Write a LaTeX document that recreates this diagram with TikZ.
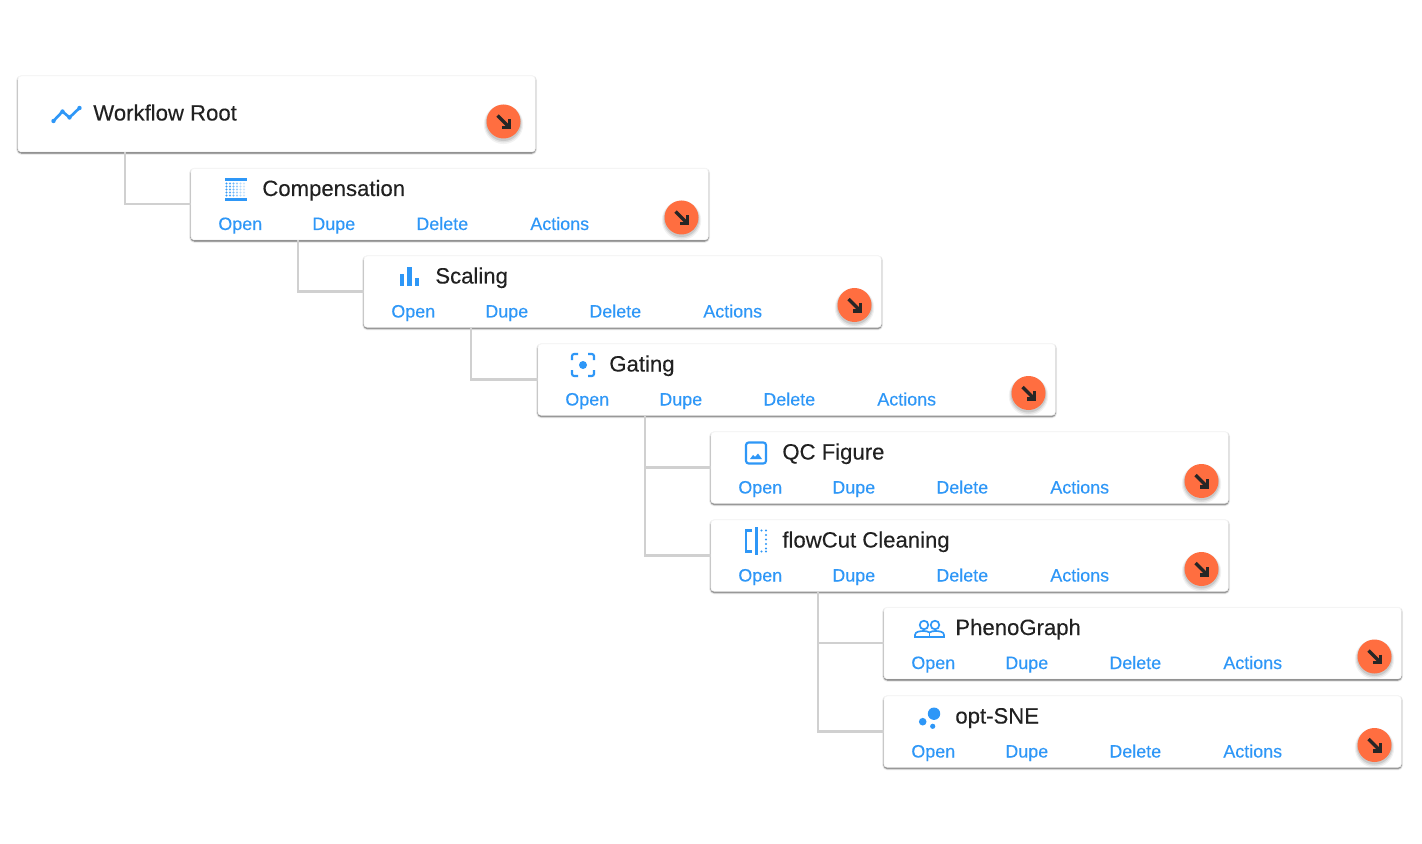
\documentclass[tikz,border=0pt]{standalone}
\usepackage{fontspec}
\setmainfont{Liberation Sans}
\newfontfamily\mediumfont[FakeBold=0.25]{Liberation Sans}
\usepackage{tikz}
\usetikzlibrary{
  arrows.meta,
  shadows.blur
}
\definecolor{linkblue}{HTML}{2E97F7}
\definecolor{titleink}{HTML}{212121}
\definecolor{fabcolor}{HTML}{FF6E40}
\definecolor{linkgray}{HTML}{D0D0D0}
\tikzset{
  job card/.style={
    rectangle,
    draw=black!4,
    fill=white,
    rounded corners=2pt,
    anchor=north west,
    minimum width=517.5*0.02cm,
    blur shadow={shadow xshift=0pt, shadow yshift=-0.7pt, shadow blur radius=1pt, shadow blur steps=4, shadow opacity=70}
  },
  job title/.style={
    anchor=base west,
    inner sep=0pt,
    text=titleink,
    font=\mediumfont\fontsize{12.6}{15}\selectfont
  },
  job action/.style={
    anchor=base west,
    inner sep=0pt,
    text=linkblue,
    font=\mediumfont\fontsize{10.2}{12}\selectfont
  },
  run fab/.style={
    circle,
    fill=fabcolor,
    minimum size=34*0.02cm,
    inner sep=0pt,
    general shadow={fill=black, opacity=0.05, shadow yshift=-1.4pt, shadow scale=1.16},
    general shadow={fill=black, opacity=0.07, shadow yshift=-1.2pt, shadow scale=1.10},
    general shadow={fill=black, opacity=0.10, shadow yshift=-1pt, shadow scale=1.04}
  },
  fab arrow/.style={
    draw=black!85,
    line width=1.9pt
  },
  tree link/.style={
    draw=linkgray,
    line width=1.5pt
  },
  icon line/.style={
    draw=linkblue,
    line width=1.2pt
  },
  trend icon/.pic={
    \draw[icon line, line width=1.5pt, line join=round, line cap=round]
      (-13,6.5) -- (-4,-3) -- (3,3) -- (13,-6.5);
    \foreach \px/\py in {-13/6.5,-4/-3,3/3,13/-6.5}{
      \fill[linkblue] (\px,\py) circle (2.2);
    }
  },
  grid icon/.pic={
    \draw[icon line] (-11,-10) -- (11,-10);
    \draw[icon line] (-11,10) -- (11,10);
    \foreach \col/\shade in {0/95,1/85,2/70,3/50,4/35,5/25}{
      \foreach \row in {-6,-3,0,3,6}{
        \fill[linkblue!\shade] (-9.5+\col*3.5,\row) circle (1.05);
      }
    }
  },
  bars icon/.pic={
    \fill[linkblue] (-9.5,-2.5) rectangle (-5.5,9.5);
    \fill[linkblue] (-2.5,-9.5) rectangle (2.5,9.5);
    \fill[linkblue] (5.5,1.5) rectangle (9.5,9.5);
  },
  focus icon/.pic={
    \fill[linkblue] (0,0) circle (4);
    \draw[icon line, rounded corners=1.2pt] (-11,-5) -- (-11,-11) -- (-5,-11);
    \draw[icon line, rounded corners=1.2pt] (5,-11) -- (11,-11) -- (11,-5);
    \draw[icon line, rounded corners=1.2pt] (11,5) -- (11,11) -- (5,11);
    \draw[icon line, rounded corners=1.2pt] (-5,11) -- (-11,11) -- (-11,5);
  },
  image icon/.pic={
    \draw[icon line, rounded corners=1.5pt] (-10,-10.5) rectangle (10,10.5);
    \fill[linkblue] (-6,6) -- (-3,2) -- (-1,4) -- (2,0.5) -- (6,6) -- cycle;
  },
  split icon/.pic={
    \draw[icon line] (-4,-10.5) -- (-10,-10.5) -- (-10,10.5) -- (-4,10.5);
    \draw[icon line, line width=1.4pt] (0.5,-14) -- (0.5,14);
    \foreach \dy in {-10.5,-6,-1.5,3,7.5,10.5}{
      \fill[linkblue] (10,\dy) circle (1.1);
    }
    \fill[linkblue] (5.5,-10.5) circle (1.1);
    \fill[linkblue] (5.5,10.5) circle (1.1);
  },
  people icon/.pic={
    \draw[icon line, line width=0.95pt] (-5,-3.5) circle (4.3);
    \draw[icon line, line width=0.95pt] (6,-3.5) circle (4.3);
    \draw[icon line, line width=0.95pt]
      (-14,8.5) -- (-14,6.5) .. controls (-14,3) and (-9,2.5) .. (-5,2.5)
      .. controls (-3,2.5) and (-1,3) .. (0.5,4)
      .. controls (2,3) and (4,2.5) .. (6,2.5)
      .. controls (10,2.5) and (15,3) .. (15,6.5) -- (15,8.5) -- cycle;
    \draw[icon line, line width=0.95pt] (0.5,4) -- (0.5,8.5);
  },
  bubbles icon/.pic={
    \fill[linkblue] (5,-3.3) circle (6.2);
    \fill[linkblue] (-6.3,4.7) circle (3.8);
    \fill[linkblue] (3.7,9.3) circle (2.6);
  }
}
\begin{document}
\begin{tikzpicture}[x=0.02cm,y=-0.02cm]

    \useasboundingbox (0,0) rectangle (1422,844);

    % ---------- root card ----------
    \node[job card, minimum height=76*0.02cm] (root) at (17.5,75.5) {};
    \node[job title] (root-title) at (93,120.5) {Workflow Root};
    \pic at (66.5,114.5) {trend icon};
    \node[run fab] (root-fab) at (503.5,121.5) {};
    \draw[fab arrow] (497.5,115.5) -- (509.5,127.5);
    \draw[fab arrow] (509.5,119.5) -- (509.5,127.5) -- (501.5,127.5);

    % ---------- job cards ----------
    \foreach \name/\x/\y/\label/\icon in {
      comp/191/168.5/Compensation/grid icon,
      scaling/364/256/Scaling/bars icon,
      gating/538/344/Gating/focus icon,
      qc/711/432/QC Figure/image icon,
      flowcut/711/520/flowCut Cleaning/split icon,
      pheno/884/607.5/PhenoGraph/people icon,
      optsne/884/696/opt-SNE/bubbles icon}{
      \node[job card, minimum height=71.5*0.02cm] (\name) at (\x-0.5,\y-0.5) {};
      \node[job title] (\name-title) at (\x+71,\y+27.5) {\label};
      \pic at (\x+45,\y+21) {\icon};
      \foreach \act/\dx in {Open/27,Dupe/121,Delete/225,Actions/339}{
        \node[job action] (\name-\act) at (\x+\dx,\y+61.5) {\act};
      }
      \node[run fab] (\name-fab) at (\x+490.5,\y+49) {};
      \draw[fab arrow] (\x+484.5,\y+43) -- (\x+496.5,\y+55);
      \draw[fab arrow] (\x+496.5,\y+47) -- (\x+496.5,\y+55) -- (\x+488.5,\y+55);
    }

    % ---------- tree links ----------
    \foreach \parent/\child in {
      root/comp,
      comp/scaling,
      scaling/gating,
      gating/qc,
      gating/flowcut,
      flowcut/pheno,
      flowcut/optsne}{
      \draw[tree link] ([xshift=107.5*0.02cm]\parent.south west) |- (\child.west);
    }

\end{tikzpicture}
\end{document}
